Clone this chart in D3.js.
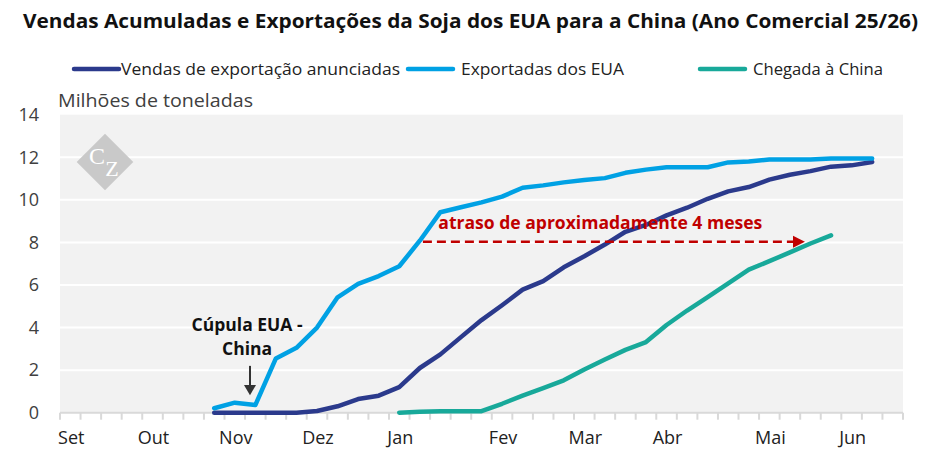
<!DOCTYPE html>
<html>
<head>
<meta charset="utf-8">
<script src="https://cdn.jsdelivr.net/npm/d3@7"></script>
<style>
  body { margin: 0; background: #fff; }
  text { font-family: "Open Sans", sans-serif; }
</style>
</head>
<body>
<svg id="chart"></svg>
<script>
// weekly categories (marketing year 25/26), month-week
var weeks = ["Set-1","Set-2","Set-3","Set-4","Out-1","Out-2","Out-3","Out-4",
  "Nov-1","Nov-2","Nov-3","Nov-4","Dez-1","Dez-2","Dez-3","Dez-4",
  "Jan-1","Jan-2","Jan-3","Jan-4","Jan-5","Fev-1","Fev-2","Fev-3","Fev-4",
  "Mar-1","Mar-2","Mar-3","Mar-4","Abr-1","Abr-2","Abr-3","Abr-4","Abr-5",
  "Mai-1","Mai-2","Mai-3","Mai-4","Jun-1","Jun-2","Jun-3"];

var monthLabels = ["Set","Out","Nov","Dez","Jan","Fev","Mar","Abr","Mai","Jun"];
var yTicks = [0, 2, 4, 6, 8, 10, 12, 14];

var vendas = [null,null,null,null,null,null,null,
  0, 0, 0, 0, 0, 0.08, 0.3, 0.64, 0.8, 1.2, 2.1, 2.74, 3.55, 4.35,
  5.05, 5.78, 6.18, 6.83, 7.35, 7.9, 8.5, 8.82, 9.27, 9.63, 10.05, 10.4,
  10.6, 10.95, 11.18, 11.35, 11.56, 11.62, 11.78, null];

var exportadas = [null,null,null,null,null,null,null,
  0.21, 0.47, 0.36, 2.55, 3.05, 4.0, 5.42, 6.05, 6.42, 6.88, 8.08, 9.42,
  9.65, 9.88, 10.15, 10.57, 10.68, 10.82, 10.93, 11.02, 11.27, 11.42,
  11.53, 11.53, 11.53, 11.76, 11.8, 11.9, 11.9, 11.9, 11.94, 11.94, 11.94, null];

var chegada = [null,null,null,null,null,null,null,null,null,null,null,null,
  null,null,null,null,
  0, 0.05, 0.07, 0.07, 0.07, 0.42, 0.8, 1.15, 1.52, 2.03, 2.5, 2.95, 3.32,
  4.12, 4.8, 5.43, 6.07, 6.72, 7.12, 7.53, 7.95, 8.33, null, null, null];

var seriesNames = ["Vendas de exportação anunciadas", "Exportadas dos EUA", "Chegada à China"];
var colors = ["#2b3a8c", "#00a1e4", "#18a99a"];

var width = 940, height = 471;
var svg = d3.select("#chart").attr("width", width).attr("height", height);

var x = d3.scaleBand().domain(weeks).range([60, 903]);
var y = d3.scaleLinear().domain([0, 14]).range([412.7, 114.7]);
var bw = x.bandwidth();
function cx(i) { return x(weeks[0]) + bw * i + bw / 2; } // position at fractional week index

// title
svg.append("text")
    .attr("x", 23).attr("y", 28)
    .attr("font-size", "20px").attr("font-weight", "bold").attr("fill", "#111")
    .attr("textLength", 895).attr("lengthAdjust", "spacingAndGlyphs")
    .text("Vendas Acumuladas e Exportações da Soja dos EUA para a China (Ano Comercial 25/26)");

// legend
var legendX = [74, 408, 700];
var legendW = [279, 169, 136];
seriesNames.forEach(function(name, k) {
    svg.append("line")
        .attr("x1", legendX[k]).attr("x2", legendX[k] + 45)
        .attr("y1", 69).attr("y2", 69)
        .attr("stroke", colors[k]).attr("stroke-width", 4.5)
        .attr("stroke-linecap", "round");
    svg.append("text")
        .attr("x", legendX[k] + 47 + (k ? 6 : 0)).attr("y", 69).attr("dy", "0.35em")
        .attr("font-size", "16px").attr("fill", "#222")
        .attr("textLength", legendW[k] - (k ? 6 : 0)).attr("lengthAdjust", "spacingAndGlyphs")
        .text(name);
});

// unit label
svg.append("text")
    .attr("x", 58).attr("y", 100).attr("dy", "0.35em")
    .attr("font-size", "19px").attr("fill", "#404040")
    .attr("textLength", 195).attr("lengthAdjust", "spacingAndGlyphs")
    .text("Milhões de toneladas");

// plot background
svg.append("rect")
    .attr("x", 60).attr("y", y(14))
    .attr("width", 843).attr("height", y(0) - y(14))
    .attr("fill", "#f2f2f2");

// grid
svg.selectAll(".grid").data(yTicks.filter(function(d) { return d > 0 && d < 14; }))
  .enter().append("line")
    .attr("x1", 60).attr("x2", 903)
    .attr("y1", function(d) { return y(d); }).attr("y2", function(d) { return y(d); })
    .attr("stroke", "#fff").attr("stroke-width", 2);

// y labels
svg.selectAll(".ylab").data(yTicks).enter().append("text")
    .attr("x", 39).attr("y", function(d) { return y(d); }).attr("dy", "0.35em")
    .attr("text-anchor", "end").attr("font-size", "18px").attr("fill", "#404040")
    .text(function(d) { return d; });

// x axis line + weekly ticks
svg.append("line")
    .attr("x1", 60).attr("x2", 903).attr("y1", y(0)).attr("y2", y(0))
    .attr("stroke", "#d9d9d9").attr("stroke-width", 2);
var tickPos = weeks.map(function(w) { return x(w); }).concat([x(weeks[weeks.length - 1]) + bw]);
svg.selectAll(".xtick").data(tickPos).enter().append("line")
    .attr("x1", function(d) { return d; }).attr("x2", function(d) { return d; })
    .attr("y1", y(0)).attr("y2", y(0) + 7)
    .attr("stroke", "#d9d9d9").attr("stroke-width", 2);

// month labels at first week of each month
svg.selectAll(".xlab").data(monthLabels).enter().append("text")
    .attr("x", function(m) { return x(m + "-1") + bw / 2 + 1; })
    .attr("y", 438).attr("dy", "0.35em")
    .attr("text-anchor", "middle").attr("font-size", "18px").attr("fill", "#222")
    .text(function(m) { return m; });

// logo
var logo = svg.append("g").attr("transform", "translate(105,162)");
logo.append("rect")
    .attr("x", -20).attr("y", -20).attr("width", 40).attr("height", 40)
    .attr("transform", "rotate(45)").attr("fill", "#c9c9c9");
logo.append("text").attr("x", -8).attr("y", -6).attr("dy", "0.35em")
    .attr("text-anchor", "middle").style("font-family", "'Liberation Serif', 'DejaVu Serif', serif")
    .attr("font-size", "24px").attr("fill", "#fff").text("C");
logo.append("text").attr("x", 7).attr("y", 6).attr("dy", "0.35em")
    .attr("text-anchor", "middle").style("font-family", "'Liberation Serif', 'DejaVu Serif', serif")
    .attr("font-size", "22px").attr("fill", "#fff").text("Z");

// series lines
var line = d3.line()
    .defined(function(d) { return d != null; })
    .x(function(d, i) { return x(weeks[i]) + bw / 2; })
    .y(function(d) { return y(d); });

[vendas, exportadas, chegada].forEach(function(s, k) {
    svg.append("path")
        .attr("d", line(s))
        .attr("fill", "none")
        .attr("stroke", colors[k]).attr("stroke-width", 4.5)
        .attr("stroke-linejoin", "round").attr("stroke-linecap", "round");
});

// annotation: cupula
svg.append("text")
    .attr("x", cx(8.6)).attr("y", 325).attr("dy", "0.35em")
    .attr("text-anchor", "middle").attr("font-size", "17.5px").attr("font-weight", "bold")
    .attr("fill", "#111").text("Cúpula EUA -");
svg.append("text")
    .attr("x", cx(8.6)).attr("y", 349).attr("dy", "0.35em")
    .attr("text-anchor", "middle").attr("font-size", "17.5px").attr("font-weight", "bold")
    .attr("fill", "#111").text("China");
svg.append("line")
    .attr("x1", cx(8.74)).attr("x2", cx(8.74))
    .attr("y1", y(2.2)).attr("y2", y(1.2))
    .attr("stroke", "#333").attr("stroke-width", 2);
svg.append("path")
    .attr("d", d3.line()([[cx(8.74) - 6, y(1.3)], [cx(8.74) + 6, y(1.3)], [cx(8.74), y(0.82)]]) + "Z")
    .attr("fill", "#333");

// annotation: delay arrow
svg.append("text")
    .attr("x", cx(17.9)).attr("y", 223).attr("dy", "0.35em")
    .attr("font-size", "17.5px").attr("font-weight", "bold").attr("fill", "#c00000")
    .attr("textLength", 324).attr("lengthAdjust", "spacingAndGlyphs")
    .text("atraso de aproximadamente 4 meses");
svg.append("line")
    .attr("x1", cx(17.15)).attr("x2", cx(35.15))
    .attr("y1", y(8.03)).attr("y2", y(8.03))
    .attr("stroke", "#c00000").attr("stroke-width", 2.5)
    .attr("stroke-dasharray", "9,5");
svg.append("path")
    .attr("d", d3.line()([[cx(35.15), y(8.03) - 6], [cx(35.15), y(8.03) + 6], [cx(35.73), y(8.03)]]) + "Z")
    .attr("fill", "#c00000");
</script>
</body>
</html>
